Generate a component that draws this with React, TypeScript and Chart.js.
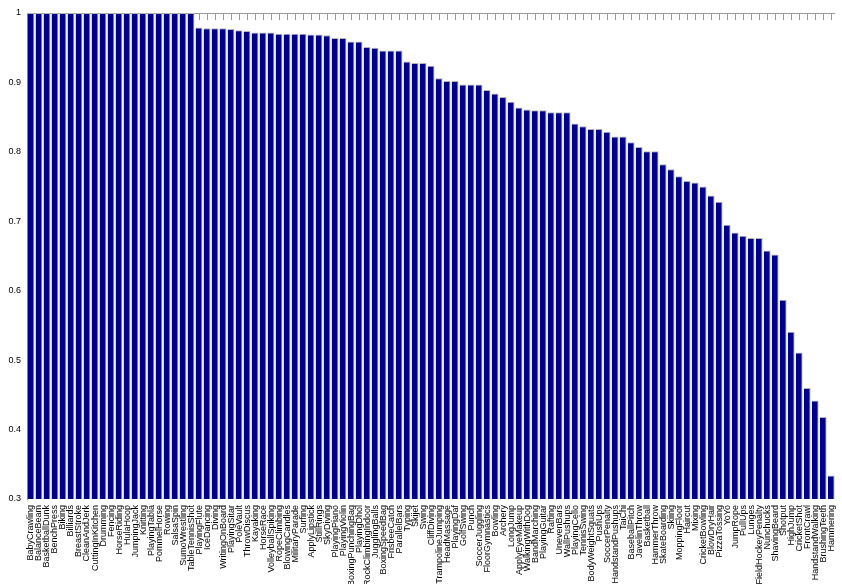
import React, { useEffect, useRef } from "react";
import { Chart, registerables } from "chart.js";

Chart.register(...registerables);

const categories: string[] = [
  "BabyCrawling", "BalanceBeam", "BasketballDunk", "BenchPress", "Biking", "Billiards",
  "BreastStroke", "CleanAndJerk", "CuttingInKitchen", "Drumming", "Fencing", "HorseRiding",
  "HulaHoop", "JumpingJack", "Knitting", "PlayingTabla", "PommelHorse", "Rowing",
  "SalsaSpin", "SumoWrestling", "TableTennisShot", "PlayingFlute", "IceDancing", "Diving",
  "WritingOnBoard", "PlayingSitar", "PoleVault", "ThrowDiscus", "Kayaking", "HorseRace",
  "VolleyballSpiking", "RopeClimbing", "BlowingCandles", "MilitaryParade", "Surfing",
  "ApplyLipstick", "StillRings", "SkyDiving", "PlayingPiano", "PlayingViolin",
  "BoxingPunchingBag", "PlayingDhol", "RockClimbingIndoor", "JugglingBalls", "BoxingSpeedBag",
  "FrisbeeCatch", "ParallelBars", "Typing", "Skijet", "Swing", "CliffDiving",
  "TrampolineJumping", "HeadMassage", "PlayingDaf", "GolfSwing", "Punch", "SoccerJuggling",
  "FloorGymnastics", "Bowling", "Archery", "LongJump", "ApplyEyeMakeup", "WalkingWithDog",
  "BandMarching", "PlayingGuitar", "Rafting", "UnevenBars", "WallPushups", "PlayingCello",
  "TennisSwing", "BodyWeightSquats", "PushUps", "SoccerPenalty", "HandstandPushups", "TaiChi",
  "BaseballPitch", "JavelinThrow", "Basketball", "HammerThrow", "SkateBoarding", "Skiing",
  "MoppingFloor", "Haircut", "Mixing", "CricketBowling", "BlowDryHair", "PizzaTossing",
  "YoYo", "JumpRope", "PullUps", "Lunges", "FieldHockeyPenalty", "Nunchucks", "ShavingBeard",
  "Shotput", "HighJump", "CricketShot", "FrontCrawl", "HandstandWalking", "BrushingTeeth",
  "Hammering",
];

const accuracy: number[] = [
  1, 1, 1, 1, 1, 1, 1, 1, 1, 1, 1, 1, 1, 1, 1, 1, 1, 1, 1, 1, 1,
  0.979, 0.978, 0.978, 0.978, 0.977, 0.975, 0.974, 0.972, 0.972, 0.972,
  0.970, 0.970, 0.970, 0.970, 0.969, 0.969, 0.968, 0.964, 0.964, 0.959,
  0.959, 0.951, 0.950, 0.946, 0.946, 0.946, 0.930, 0.928, 0.928, 0.924,
  0.906, 0.902, 0.902, 0.897, 0.897, 0.897, 0.889, 0.884, 0.879, 0.872,
  0.864, 0.861, 0.860, 0.860, 0.857, 0.857, 0.857, 0.841, 0.837, 0.833,
  0.833, 0.829, 0.822, 0.822, 0.814, 0.807, 0.801, 0.801, 0.782, 0.775,
  0.765, 0.758, 0.756, 0.750, 0.737, 0.728, 0.695, 0.684, 0.679, 0.676,
  0.676, 0.658, 0.652, 0.587, 0.541, 0.511, 0.460, 0.442, 0.418, 0.334,
];

const yMin = 0.3;
const yMax = 1;
const yStep = 0.1;

const topTicksPlugin = {
  id: "topTicks",
  beforeDatasetsDraw(chart: any) {
    const { ctx, chartArea, scales } = chart;
    const x = scales.x;
    ctx.save();
    ctx.strokeStyle = "#999999";
    ctx.lineWidth = 1;
    ctx.beginPath();
    ctx.moveTo(chartArea.left, chartArea.top + 0.5);
    ctx.lineTo(chartArea.right, chartArea.top + 0.5);
    for (let i = 0; i < categories.length; i++) {
      const px = Math.round(x.getPixelForValue(i)) + 0.5;
      ctx.moveTo(px, chartArea.top);
      ctx.lineTo(px, chartArea.top + 7);
    }
    ctx.stroke();
    ctx.restore();
  },
};

export default function App() {
  const ref = useRef<HTMLCanvasElement | null>(null);
  useEffect(() => {
    if (!ref.current) return;
    const chart = new Chart(ref.current, {
      type: "bar",
      data: {
        labels: categories,
        datasets: [
          {
            data: accuracy,
            backgroundColor: "#00008b",
            borderColor: "#b4b4b4",
            borderWidth: { top: 1, right: 1, left: 0, bottom: 0 },
            borderSkipped: false,
            barPercentage: 0.86,
            categoryPercentage: 1,
          },
        ],
      },
      options: {
        responsive: false,
        animation: false,
        devicePixelRatio: 1,
        layout: { padding: { top: 13, right: 0, left: 0, bottom: 0 } },
        plugins: { legend: { display: false }, tooltip: { enabled: false } },
        scales: {
          x: {
            grid: { display: false, drawTicks: false },
            border: { display: false },
            ticks: {
              autoSkip: false,
              maxRotation: 90,
              minRotation: 90,
              padding: 6,
              color: "#000000",
              font: { family: "'Liberation Sans', Arial, sans-serif", size: 9 },
            },
            afterFit(scale: any) {
              scale.height = 85;
            },
          },
          y: {
            min: yMin,
            max: yMax,
            grid: { drawOnChartArea: false, drawTicks: false },
            border: { display: true, color: "#999999", width: 1 },
            ticks: {
              stepSize: yStep,
              padding: 6,
              color: "#000000",
              font: { family: "'Liberation Sans', Arial, sans-serif", size: 9 },
              callback: (v: any) => String(Math.round(Number(v) * 10) / 10),
            },
            afterFit(scale: any) {
              scale.width = 27;
            },
          },
        },
      },
      plugins: [topTicksPlugin],
    });
    return () => chart.destroy();
  }, []);

  return (
    <div
      style={{
        position: "fixed",
        left: 0,
        top: 0,
        width: 842,
        height: 584,
        overflow: "hidden",
        background: "#ffffff",
      }}
    >
      <canvas ref={ref} width={848} height={584} style={{ display: "block", width: 848, height: 584 }} />
    </div>
  );
}
